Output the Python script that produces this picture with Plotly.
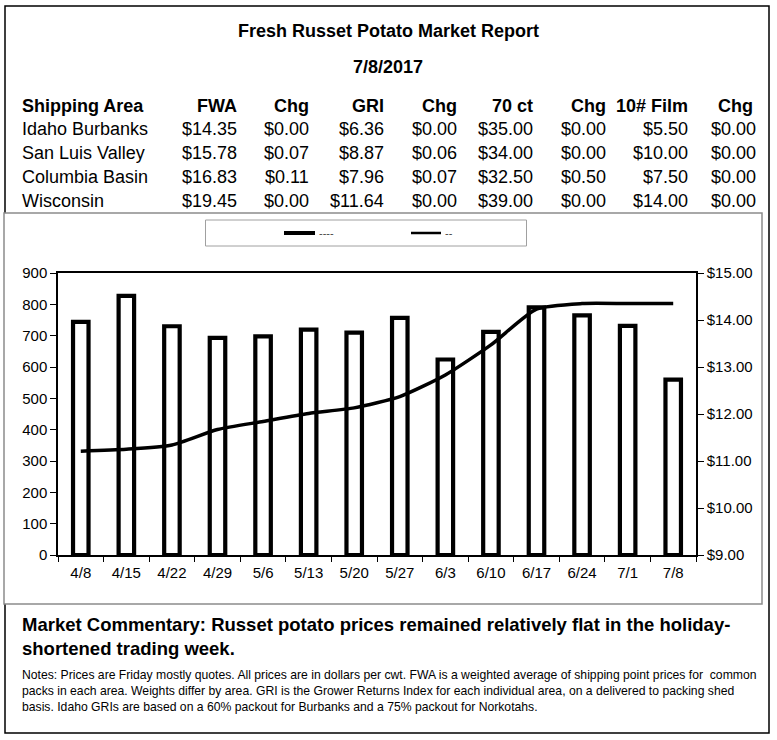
import plotly.graph_objects as go

W, H = 777, 740

# ---------------- data ----------------
title = "Fresh Russet Potato Market Report"
report_date = "7/8/2017"

headers = ["Shipping Area", "FWA", "Chg", "GRI", "Chg", "70 ct", "Chg", "10# Film", "Chg"]
areas = ["Idaho Burbanks", "San Luis Valley", "Columbia Basin", "Wisconsin"]
fwa = [14.35, 15.78, 16.83, 19.45]
fwa_chg = [0.00, 0.07, 0.11, 0.00]
gri = [6.36, 8.87, 7.96, 11.64]
gri_chg = [0.00, 0.06, 0.07, 0.00]
ct70 = [35.00, 34.00, 32.50, 39.00]
ct70_chg = [0.00, 0.00, 0.50, 0.00]
film10 = [5.50, 10.00, 7.50, 14.00]
film10_chg = [0.00, 0.00, 0.00, 0.00]

weeks = ["4/8", "4/15", "4/22", "4/29", "5/6", "5/13", "5/20",
         "5/27", "6/3", "6/10", "6/17", "6/24", "7/1", "7/8"]
volume = [744, 827, 730, 693, 698, 719, 710, 757, 624, 712, 790, 765, 731, 560]
price = [11.21, 11.25, 11.34, 11.67, 11.84, 12.01, 12.13,
         12.37, 12.83, 13.47, 14.23, 14.35, 14.35, 14.35]

legend_names = ["----", "--"]

commentary = ("Market Commentary: Russet potato prices remained relatively flat in the holiday-<br>"
              "shortened trading week.")
notes = ("Notes: Prices are Friday mostly quotes. All prices are in dollars per cwt. FWA is a weighted average of shipping point prices for  common<br>"
         "packs in each area. Weights differ by area. GRI is the Grower Returns Index for each individual area, on a delivered to packing shed<br>"
         "basis. Idaho GRIs are based on a 60% packout for Burbanks and a 75% packout for Norkotahs.")

# ---------------- helpers ----------------
FONT = "Liberation Sans, Arial, sans-serif"


def px(x):
    return x / W


def py(y):
    return 1 - y / H


annotations = []
shapes = []


def text(x, y, s, size=18, anchor="right", bold=False, color="black"):
    annotations.append(dict(
        x=px(x), y=py(y), xref="paper", yref="paper",
        text=f"<b>{s}</b>" if bold else s, showarrow=False,
        xanchor=anchor, yanchor="middle",
        font=dict(family=FONT, size=size, color=color),
    ))


def money(v):
    return f"${v:.2f}"


# ---------------- figure ----------------
fig = go.Figure()
fig.add_trace(go.Bar(
    x=weeks, y=volume, name=legend_names[0],
    marker=dict(color="white", line=dict(color="black", width=4.2)),
    yaxis="y", showlegend=False,
))
fig.add_trace(go.Scatter(
    x=weeks, y=price, name=legend_names[1], mode="lines",
    line=dict(color="black", width=3.5, shape="spline", smoothing=0.6),
    yaxis="y2", showlegend=False,
))

# title + table
text(388, 31, title, size=18, anchor="center", bold=True)
text(388, 67, report_date, size=18, anchor="center", bold=True)

col_x = [20, 239, 311, 386, 459, 535, 608, 690, 755]
for i, h in enumerate(headers):
    text(col_x[i], 106, h, anchor="left" if i == 0 else "right", bold=True)

cols = [fwa, fwa_chg, gri, gri_chg, ct70, ct70_chg, film10, film10_chg]
row_y = [129, 153, 177, 201]
for r, area in enumerate(areas):
    text(col_x[0], row_y[r], area, anchor="left")
    for c, col in enumerate(cols):
        xx = col_x[c + 1] + (3 if c == 7 else 0)
        text(xx, row_y[r], money(col[r]), anchor="right")

# commentary and notes
annotations.append(dict(
    x=px(20), y=py(612), xref="paper", yref="paper", text=f"<b>{commentary}</b>",
    showarrow=False, xanchor="left", yanchor="top", align="left",
    font=dict(family=FONT, size=18.5, color="black"),
))
annotations.append(dict(
    x=px(20), y=py(666), xref="paper", yref="paper", text=notes,
    showarrow=False, xanchor="left", yanchor="top", align="left",
    font=dict(family=FONT, size=12.2, color="black"),
))

# borders
shapes.append(dict(type="rect", xref="paper", yref="paper", layer="below",
                   x0=px(5), x1=px(769), y0=py(6), y1=py(733),
                   line=dict(color="black", width=1.5)))
shapes.append(dict(type="rect", xref="paper", yref="paper", layer="below",
                   x0=px(4), x1=px(762), y0=py(213), y1=py(604),
                   fillcolor="white", line=dict(color="#8c8c8c", width=1.5)))
# legend box
shapes.append(dict(type="rect", xref="paper", yref="paper",
                   x0=px(205.5), x1=px(526.5), y0=py(220), y1=py(246),
                   line=dict(color="#a0a0a0", width=1)))
shapes.append(dict(type="line", xref="paper", yref="paper",
                   x0=px(284), x1=px(315), y0=py(233), y1=py(233),
                   line=dict(color="black", width=4)))
shapes.append(dict(type="line", xref="paper", yref="paper",
                   x0=px(411), x1=px(441), y0=py(233), y1=py(233),
                   line=dict(color="black", width=2.5)))
text(317, 233, legend_names[0], size=11, anchor="left", color="#444444")
text(443, 233, legend_names[1], size=11, anchor="left", color="#444444")

axis_font = dict(family=FONT, size=15, color="black")
fig.update_layout(
    width=W, height=H,
    autosize=False,
    margin=dict(l=0, r=0, t=0, b=0, pad=0, autoexpand=False),
    paper_bgcolor="white", plot_bgcolor="rgba(0,0,0,0)",
    bargap=0.66,
    showlegend=False,
    annotations=annotations,
    shapes=shapes,
    xaxis=dict(
        domain=[px(58), px(696)], type="category", automargin=False,
        showline=True, linecolor="black", linewidth=1.5, mirror=True,
        ticks="outside", ticklen=5, tickcolor="black", tickson="boundaries",
        ticklabelstandoff=3,
        showgrid=False, tickfont=axis_font, anchor="y",
    ),
    yaxis=dict(
        domain=[py(555), py(273)], range=[0, 900], dtick=100, automargin=False,
        showline=True, linecolor="black", linewidth=1.5,
        ticks="outside", ticklen=6, tickcolor="black",
        showgrid=False, zeroline=False, tickfont=axis_font,
    ),
    yaxis2=dict(
        overlaying="y", side="right", anchor="x", automargin=False,
        range=[9, 15], dtick=1, tickprefix="$", tickformat=".2f",
        showline=True, linecolor="black", linewidth=1.5,
        ticks="outside", ticklen=6, tickcolor="black",
        showgrid=False, zeroline=False, tickfont=axis_font,
    ),
)

fig.write_html(
    "out.html",
    config={"displayModeBar": False, "responsive": False},
    post_script="document.body.style.margin='0';document.body.style.padding='0';",
)
